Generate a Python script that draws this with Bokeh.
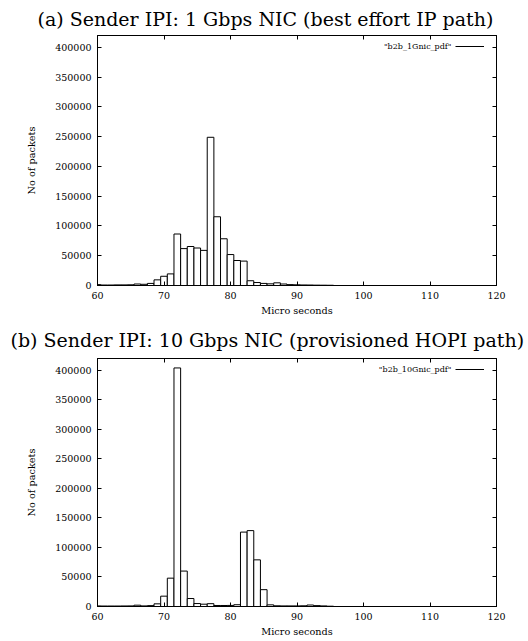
from bokeh.plotting import figure
from bokeh.layouts import column
from bokeh.models import (Range1d, LinearAxis, FixedTicker, NumeralTickFormatter,
                          Label, Legend, LegendItem)
from bokeh.embed import file_html
from bokeh.resources import INLINE

# ---------------- data ----------------
x_us = list(range(60, 96))
counts_1g = [1500, 800, 800, 1000, 1000, 1200, 2500, 2000, 3500, 9500,
             15500, 19500, 86500, 62000, 65500, 63000, 59000, 249000, 115500, 78500,
             52000, 42000, 41000, 8000, 5000, 3500, 2800, 4500, 2500, 1500,
             1200, 900, 800, 600, 500, 400]
counts_10g = [1000, 800, 800, 800, 900, 1000, 2200, 1000, 1500, 4500,
              17500, 48000, 404000, 60000, 13500, 5000, 3900, 4800, 1700, 1700,
              1800, 3000, 126000, 128500, 79000, 28500, 2800, 1200, 1000, 1000,
              1000, 1200, 2500, 1500, 1000, 500]
titles = ["(a) Sender IPI: 1 Gbps NIC (best effort IP path)",
          "(b) Sender IPI: 10 Gbps NIC (provisioned HOPI path)"]
legend_labels = ['"b2b_1Gnic_pdf"', '"b2b_10Gnic_pdf"']
x_ticks = [60, 70, 80, 90, 100, 110, 120]
y_ticks = [0, 50000, 100000, 150000, 200000, 250000, 300000, 350000, 400000]
x_label = "Micro seconds"
y_label = "No of packets"
X_MIN, X_MAX = 60, 120
Y_MAX = 420000

FONT = "DejaVu Serif"
W = 528
BL, BR = 97, 32
FRAME_W = W - BL - BR


def make_panel(counts, title, title_offset, title_standoff, legend_label,
               border_top, frame_h, border_bottom):
    H = border_top + frame_h + border_bottom
    p = figure(width=W, height=H, output_backend="svg", toolbar_location=None,
               x_range=Range1d(X_MIN, X_MAX), y_range=Range1d(0, Y_MAX),
               min_border_left=BL, min_border_right=BR,
               min_border_top=border_top, min_border_bottom=border_bottom,
               background_fill_color="white", border_fill_color="white")
    p.xgrid.visible = False
    p.ygrid.visible = False
    p.outline_line_color = "black"
    p.outline_line_width = 1

    p.title.text = title
    p.title.align = "left"
    p.title.vertical_align = "bottom"
    p.title.offset = title_offset
    p.title.standoff = title_standoff
    p.title.text_font = FONT
    p.title.text_font_size = "19px"
    p.title.text_font_style = "normal"
    p.title.text_color = "black"

    p.vbar(x=x_us, top=counts, bottom=0, width=1.0,
           fill_color="white", line_color="black", line_width=1)

    # axes
    xa = p.xaxis[0]
    xa.ticker = FixedTicker(ticks=x_ticks)
    ya = p.yaxis[0]
    ya.ticker = FixedTicker(ticks=y_ticks)
    ya.formatter = NumeralTickFormatter(format="0")
    for ax in (xa, ya):
        ax.axis_line_color = "black"
        ax.major_tick_line_color = "black"
        ax.major_tick_in = 4
        ax.major_tick_out = 0
        ax.minor_tick_line_color = None
        ax.major_label_text_font = FONT
        ax.major_label_text_font_size = "9.5px"
        ax.major_label_text_color = "black"
        ax.axis_label_text_font = FONT
        ax.axis_label_text_font_size = "9.7px"
        ax.axis_label_text_font_style = "normal"
        ax.axis_label_text_color = "black"
    xa.axis_label = x_label
    xa.major_label_standoff = 6
    xa.axis_label_standoff = 3
    ya.axis_label = y_label
    ya.major_label_standoff = 6
    ya.axis_label_standoff = 15

    # mirrored tick marks on the right and top (gnuplot style)
    ra = LinearAxis(ticker=FixedTicker(ticks=y_ticks))
    ta = LinearAxis(ticker=FixedTicker(ticks=x_ticks))
    for ax in (ra, ta):
        ax.axis_line_color = "black"
        ax.major_tick_line_color = "black"
        ax.major_tick_in = 4
        ax.major_tick_out = 0
        ax.minor_tick_line_color = None
        ax.major_label_text_font_size = "1px"
        ax.major_label_text_color = None
        ax.major_label_standoff = 0
    p.add_layout(ra, "right")
    p.add_layout(ta, "above")

    sx = (X_MAX - X_MIN) / FRAME_W
    sy = Y_MAX / frame_h

    # legend text (right aligned, left of the sample line, gnuplot style)
    p.add_layout(Label(x=X_MIN + 354 * sx, y=Y_MAX - 11 * sy,
                       text=legend_label, text_align="right", text_baseline="middle",
                       text_font=FONT, text_font_size="8px", text_color="black"))
    sample = p.line(x=[X_MIN], y=[0], line_color="black", line_width=1)
    leg = Legend(items=[LegendItem(label="", renderers=[sample])],
                 location=(358, frame_h - 16), glyph_width=29, glyph_height=10,
                 label_height=10, label_width=0, padding=0, margin=0, spacing=0,
                 label_standoff=0, border_line_color=None, background_fill_alpha=0,
                 label_text_font_size="8px", label_text_color=None)
    p.add_layout(leg)
    return p


p1 = make_panel(counts_1g, titles[0], -60, 11, legend_labels[0], 35, 250, 33)
p2 = make_panel(counts_10g, titles[1], -87, 15, legend_labels[1], 40, 248, 34)

layout = column(p1, p2, spacing=0)
open("out.html", "w").write(file_html(layout, INLINE))
